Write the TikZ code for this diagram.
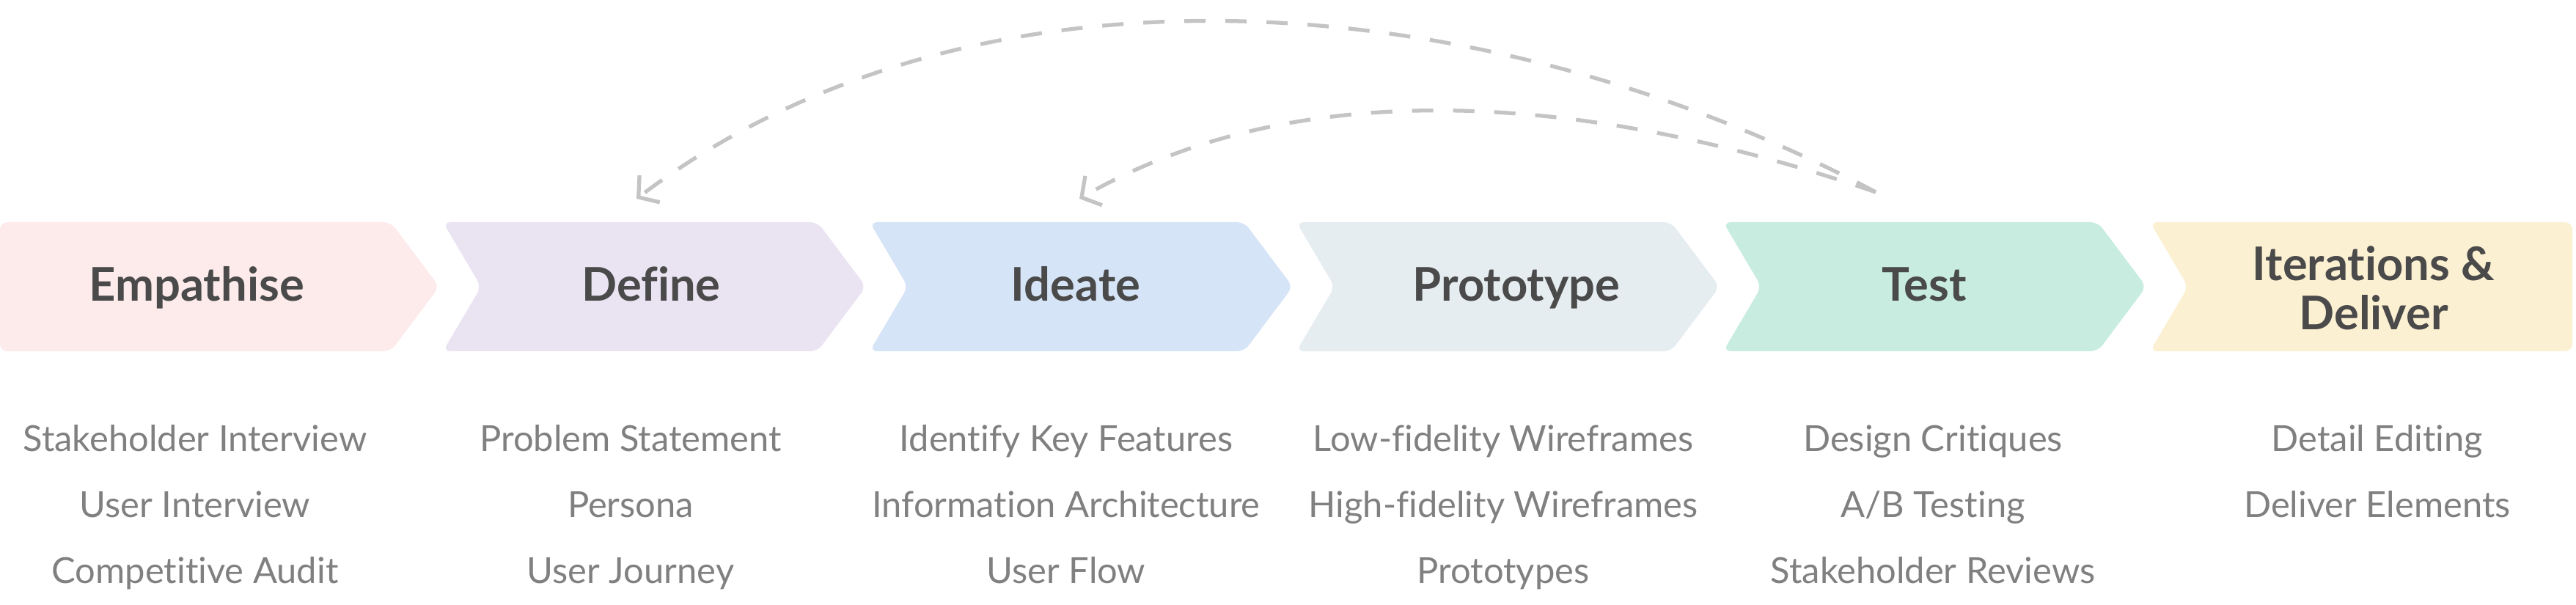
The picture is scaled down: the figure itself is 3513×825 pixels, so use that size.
\documentclass[tikz,border=0pt]{standalone}
\usepackage{fontspec}
\setmainfont{Lato}[Ligatures=NoCommon]
\usetikzlibrary{arrows.meta}
\definecolor{empfill}{HTML}{FDEBEB}
\definecolor{deffill}{HTML}{EAE4F2}
\definecolor{idefill}{HTML}{D6E4F7}
\definecolor{profill}{HTML}{E5EDF1}
\definecolor{tstfill}{HTML}{C8EDE0}
\definecolor{itrfill}{HTML}{FCF0D2}
\definecolor{headgray}{HTML}{4A4A4A}
\definecolor{subgray}{HTML}{808080}
\definecolor{arcgray}{HTML}{C4C4C4}

\begin{document}
\begin{tikzpicture}[x=0.01cm,y=-0.01cm,
    phase/.style={text=headgray,font=\fontsize{18}{19}\selectfont\bfseries,align=center},
    item/.style={text=subgray,font=\fontsize{13.9}{16}\selectfont,anchor=base},
    loopback/.style={draw=arcgray,line width=1.5pt,dash pattern=on 0.29cm off 0.27cm,
      -{Straight Barb[length=1.9mm,width=4.6mm]}}]
  \useasboundingbox (0,0) rectangle (3513,825);
  \fill[empfill,rounded corners=1mm] (0,303) -- (533,303) -- (599,391) -- (533,479) -- (0,479) -- cycle;
  \foreach \i/\c in {1/deffill,2/idefill,3/profill,4/tstfill}
    {\fill[\c,rounded corners=1mm] ({582*\i+22},303) -- ({582*\i+533},303) -- ({582*\i+599},391)
      -- ({582*\i+533},479) -- ({582*\i+22},479) -- ({582*\i+74},391) -- cycle;}
  \fill[itrfill,rounded corners=1mm] (2932,303) -- (3508,303) -- (3508,479) -- (2932,479) -- (2984,391) -- cycle;
  \node[phase,anchor=base] (empathise) at (268,411) {Empathise};
  \node[phase,anchor=base] (define) at (888,411) {Define};
  \node[phase,anchor=base] (ideate) at (1467,411) {Ideate};
  \node[phase,anchor=base] (prototype) at (2068,411) {Prototype};
  \node[phase,anchor=base] (test) at (2624,411) {Test};
  \node[phase] (iterate) at (3237,393) {Iterations \&\\Deliver};
  \foreach \t [count=\k] in {Stakeholder Interview,User Interview,Competitive Audit}
    {\node[item] (empathise-\k) at (266,525+90*\k) {\t};}
  \foreach \t [count=\k] in {Problem Statement,Persona,User Journey}
    {\node[item] (define-\k) at (860,525+90*\k) {\t};}
  \foreach \t [count=\k] in {Identify Key Features,Information Architecture,User Flow}
    {\node[item] (ideate-\k) at (1454,525+90*\k) {\t};}
  \foreach \t [count=\k] in {Low-fidelity Wireframes,High-fidelity Wireframes,Prototypes}
    {\node[item] (prototype-\k) at (2050,525+90*\k) {\t};}
  \foreach \t [count=\k] in {Design Critiques,A/B Testing,Stakeholder Reviews}
    {\node[item] (test-\k) at (2636,525+90*\k) {\t};}
  \foreach \t [count=\k] in {Detail Editing,Deliver Elements}
    {\node[item] (iterate-\k) at (3242,525+90*\k) {\t};}
  \coordinate (loop) at (2558,262);
  \coordinate (define-in) at (868,271);
  \coordinate (ideate-in) at (1472,271);
  \draw[loopback] (loop) .. controls (2037,-15) and (1339,-84) .. (define-in);
  \draw[loopback] (loop) .. controls (2207,141) and (1793,86) .. (ideate-in);
\end{tikzpicture}
\end{document}
